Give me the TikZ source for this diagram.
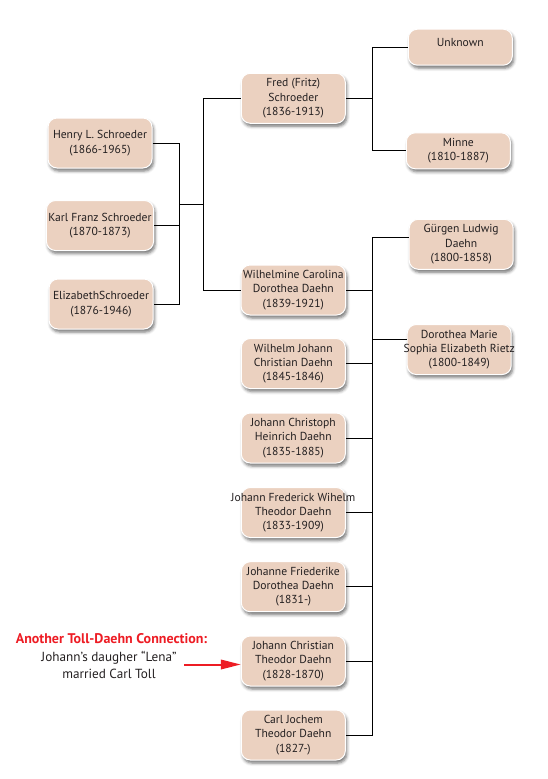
\documentclass[tikz,border=0pt]{standalone}
\usepackage{fontspec}
\setmainfont{PT Sans}
\usetikzlibrary{shadows.blur, arrows.meta}

\definecolor{boxfill}{RGB}{235,209,192}
\definecolor{inkgray}{RGB}{35,31,32}
\definecolor{notered}{RGB}{237,28,36}

% a line that may stick out of its box on both sides
\newcommand{\overhang}[1]{\makebox[0pt]{#1}}

\tikzset{
  person/.style={rectangle, rounded corners=9pt, fill=boxfill, draw=white,
    line width=1pt, minimum width=104pt, minimum height=50pt, inner sep=2pt,
    align=center, text=inkgray, font=\fontsize{11.6}{14.3}\selectfont,
    blur shadow={shadow xshift=1.5pt, shadow yshift=-3pt,
      shadow blur radius=3pt, shadow opacity=55}},
  shortperson/.style={person, minimum height=36pt},
  link/.style={draw=black, line width=0.8pt},
}

\begin{document}
\begin{tikzpicture}[x=1pt, y=-1pt]
    \useasboundingbox (0,0) rectangle (548,779);

    % children of Fred and Wilhelmine
    \node[person] (henry) at (100,143) {Henry L. Schroeder\\(1866-1965)};
    \node[person] (karl) at (100,225.5) {Karl Franz Schroeder\\(1870-1873)};
    \node[person] (elizabeth) at (101,304) {ElizabethSchroeder\\(1876-1946)};

    % Fred, Wilhelmine and her brothers and sisters
    \node[person] (fred) at (293.3,98.3) {Fred (Fritz)\\Schroeder\\(1836-1913)};
    \node[person] (wilhelmine) at (293.3,290) {Wilhelmine Carolina\\Dorothea Daehn\\(1839-1921)};
    \node[person] (wilhelm) at (293.3,363.5) {Wilhelm Johann\\Christian Daehn\\(1845-1846)};
    \node[person] (christoph) at (293.3,438) {Johann Christoph\\Heinrich Daehn\\(1835-1885)};
    \node[person] (frederick) at (293.3,512.5) {\overhang{Johann Frederick Wihelm}\\Theodor Daehn\\(1833-1909)};
    \node[person] (friederike) at (293.3,586.7) {Johanne Friederike\\Dorothea Daehn\\(1831-)};
    \node[person] (christian) at (293.3,661) {Johann Christian\\Theodor Daehn\\(1828-1870)};
    \node[person] (carl) at (293.3,735) {Carl Jochem\\Theodor Daehn\\(1827-)};

    % parents
    \node[shortperson, text depth=9pt] (unknown) at (460.3,47.2) {Unknown};
    \node[shortperson] (minne) at (458.3,150.8) {Minne\\(1810-1887)};
    \node[person] (guergen) at (461.2,244.3) {Gürgen Ludwig\\Daehn\\(1800-1858)};
    \node[person] (dorothea) at (459.2,349.5) {Dorothea Marie\\\overhang{Sophia Elizabeth Rietz}\\(1800-1849)};

    % note
    \node[text=notered, font=\fontsize{14}{17}\selectfont\bfseries]
        (notehead) at (111.5,639) {Another Toll-Daehn Connection:};
    \node[text=inkgray, align=center, font=\fontsize{13.2}{17}\selectfont]
        (notebody) at (109,664.5) {Johann’s daugher “Lena”\\married Carl Toll};

    \coordinate (sibbus) at (179,0);
    \coordinate (sibmid) at (179,204);
    \coordinate (parbus) at (203,0);
    \coordinate (fredbus) at (372,0);
    \coordinate (daehnbus) at (372.6,0);

    % Schroeder children
    \draw[link] (henry.east) -- (henry.east -| sibbus)
        -- (elizabeth.east -| sibbus) -- (elizabeth.east);
    \draw[link] (karl.east) -- (karl.east -| sibbus);
    \draw[link] (sibmid) -- (sibmid -| parbus);
    \draw[link] (fred.west) -- (fred.west -| parbus)
        -- (wilhelmine.west -| parbus) -- (wilhelmine.west);

    % Fred's parents
    \draw[link] (fred.east) -- (fred.east -| fredbus);
    \draw[link] (unknown.west) -- (unknown.west -| fredbus)
        -- (minne.west -| fredbus) -- (minne.west);

    % Daehn family
    \draw[link] ([yshift=7pt]guergen.west) -- ([yshift=7pt]guergen.west -| daehnbus)
        -- (carl.east -| daehnbus);
    \draw[link] ([yshift=10pt]dorothea.west) -- ([yshift=10pt]dorothea.west -| daehnbus);
    \foreach \kid in {wilhelmine, wilhelm, christoph, frederick, friederike, christian, carl}
        \draw[link] (\kid.east) -- (\kid.east -| daehnbus);

    \draw[notered, line width=2pt, -{Triangle[length=20pt, width=9.5pt]}, shorten <=4pt]
        (notebody.east) -- (notebody.east -| christian.west);
\end{tikzpicture}
\end{document}
